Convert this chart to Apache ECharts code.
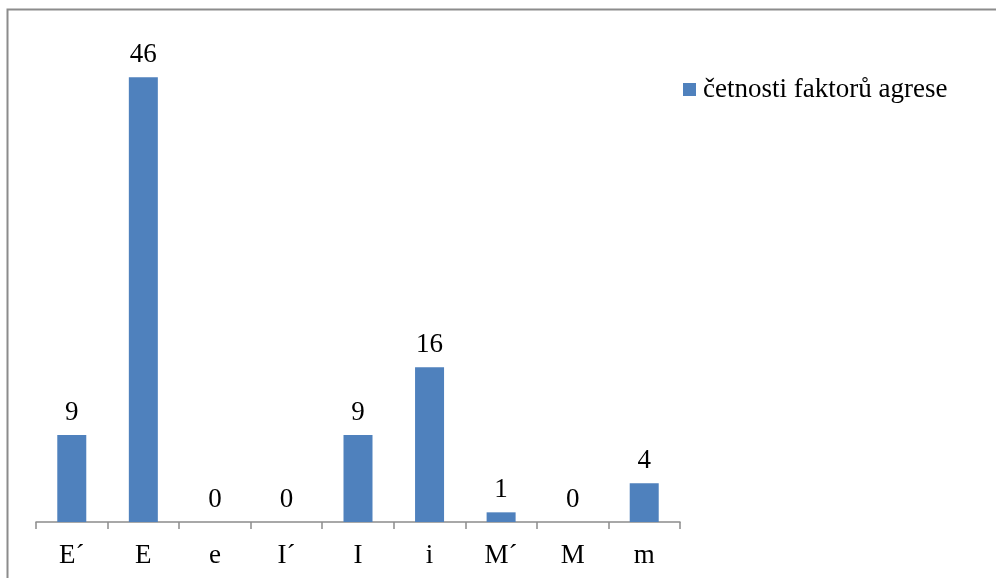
<!DOCTYPE html>
<html>
<head>
<meta charset="utf-8">
<script src="https://cdn.jsdelivr.net/npm/echarts@6/dist/echarts.min.js"></script>
<style>
  html, body { margin: 0; padding: 0; background: #fff; }
  #chart { width: 996px; height: 578px; }
</style>
</head>
<body>
<div id="chart"></div>
<script>
// Frequencies of aggression factors
const categories = ['E\u00b4', 'E', 'e', 'I\u00b4', 'I', 'i', 'M\u00b4', 'M', 'm'];
const counts = [9, 46, 0, 0, 9, 16, 1, 0, 4];
const seriesName = 'četnosti faktorů agrese';

const serif = '"Liberation Serif", "DejaVu Serif", serif';
const chart = echarts.init(document.getElementById('chart'));

chart.setOption({
  animation: false,
  backgroundColor: '#fff',
  graphic: [{
    type: 'rect',
    shape: { x: 7.5, y: 9.5, width: 1200, height: 800 },
    style: { fill: 'none', stroke: '#8c8c8c', lineWidth: 2 },
    silent: true
  }],
  legend: {
    data: [seriesName],
    left: 683,
    top: 76,
    padding: 0,
    itemWidth: 13,
    itemHeight: 13,
    itemGap: 7,
    icon: 'rect',
    textStyle: { fontFamily: serif, fontSize: 27, color: '#000', padding: [0, 0, 0, 2] }
  },
  grid: { left: 36, right: 316, top: 38.5, bottom: 56, containLabel: false },
  xAxis: {
    type: 'category',
    data: categories,
    axisLine: { lineStyle: { color: '#8c8c8c', width: 1.5 } },
    axisTick: { show: true, length: 7, lineStyle: { color: '#8c8c8c', width: 1.5 } },
    axisLabel: { fontFamily: serif, fontSize: 27, color: '#000', margin: 20 }
  },
  yAxis: {
    type: 'value',
    min: 0,
    max: 50,
    show: false,
    splitLine: { show: false }
  },
  series: [{
    name: seriesName,
    type: 'bar',
    data: counts,
    barWidth: 29,
    itemStyle: { color: '#4f81bd' },
    label: {
      show: true,
      position: 'top',
      distance: 9,
      fontFamily: serif,
      fontSize: 27,
      color: '#000'
    }
  }]
});
</script>
</body>
</html>
